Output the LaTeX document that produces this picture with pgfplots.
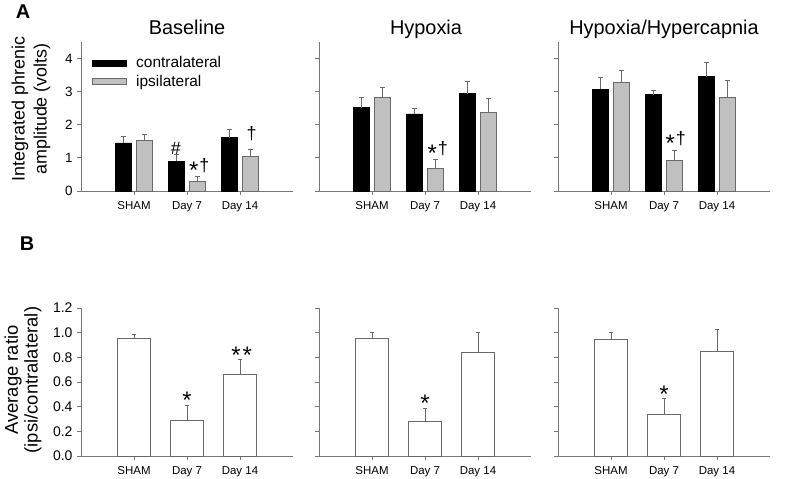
\documentclass[border=0pt]{standalone}
\usepackage{pgfplots}
\pgfplotsset{compat=1.18}
\usepackage{fontspec}
\setmainfont{Liberation Sans}
\definecolor{axgray}{RGB}{120,120,120}
\definecolor{bargray}{RGB}{192,192,192}
\definecolor{bardraw}{RGB}{105,105,105}
\newcommand{\bigast}{\raisebox{-10.5bp}{\fontsize{24}{24}\selectfont *}}
\newcommand{\astdag}{\raisebox{-7bp}{\fontsize{24}{24}\selectfont *}\kern1bp†}
\tikzset{ann/.style={font=\fontsize{18}{18}\selectfont, anchor=base, inner sep=0pt}}
\pgfplotsset{
  eb/.style={error bars/.cd, y dir=plus, y explicit,
    error bar style={bardraw, line width=0.8bp},
    error mark options={rotate=90, bardraw, line width=0.8bp, mark size=2.2bp}},
  panel/.style={
    scale only axis, width=212bp, xmin=-1, xmax=3,
    axis lines*=left, axis line style={axgray, line width=0.8bp},
    tick style={axgray, line width=0.8bp}, tick align=outside, major tick length=4bp,
    xtick={0,1,2}, xticklabels={SHAM,Day 7,Day 14},
    xticklabel style={font=\fontsize{11.5}{13}\selectfont, yshift=-3bp},
    /pgf/number format/assume math mode=true,
    anchor=south west, clip=false,
  },
  panelA/.style={panel, height=149bp, ymin=0, ymax=4.5, ytick={0,1,2,3,4},
    ybar=5bp, bar width=16bp,
    yticklabel style={font=\fontsize{13.5}{15}\selectfont, xshift=-1bp}},
  panelB/.style={panel, height=148bp, ymin=0, ymax=1.2,
    ytick={0,0.2,0.4,0.6,0.8,1.0,1.2}, ybar, bar width=33bp,
    yticklabel style={font=\fontsize{14}{15}\selectfont, xshift=-1bp,
      /pgf/number format/.cd, fixed, fixed zerofill, precision=1}},
  contra/.style={fill=black, draw=black, line width=0.6bp, eb},
  ipsi/.style={fill=bargray, draw=bardraw, line width=0.6bp, eb},
  ratio/.style={fill=white, draw=bardraw, line width=0.8bp, eb},
}
\begin{document}
\begin{tikzpicture}
\useasboundingbox (0,0) rectangle (800bp,479bp);
% ---------------- Panel A ----------------
\begin{axis}[panelA, at={(81bp,288bp)},
  legend style={draw=none, fill=none, at={(axis description cs:0.035,0.93)}, anchor=north west,
    font=\fontsize{15.5}{17}\selectfont, row sep=2bp, cells={anchor=west},
    /tikz/every odd column/.append style={column sep=8bp}},
  legend image code/.code={\draw[#1] (0bp,-3bp) rectangle (34bp,3bp);},
  legend entries={contralateral, ipsilateral}]
\addplot[contra] coordinates {(0,1.45) +- (0,0.20) (1,0.90) +- (0,0.21) (2,1.61) +- (0,0.26)};
\addplot[ipsi] coordinates {(0,1.54) +- (0,0.16) (1,0.29) +- (0,0.14) (2,1.05) +- (0,0.20)};
\node[ann] at (axis cs:0.79,1.09) {\#};
\node[ann] at (axis cs:1.23,0.60) {\astdag};
\node[ann] at (axis cs:2.22,1.56) {†};
\end{axis}
\begin{axis}[panelA, at={(319bp,288bp)}, yticklabels={}]
\addplot[contra] coordinates {(0,2.52) +- (0,0.32) (1,2.33) +- (0,0.15) (2,2.94) +- (0,0.38)};
\addplot[ipsi] coordinates {(0,2.84) +- (0,0.30) (1,0.69) +- (0,0.26) (2,2.38) +- (0,0.43)};
\node[ann] at (axis cs:1.24,1.10) {\astdag};
\end{axis}
\begin{axis}[panelA, at={(558bp,288bp)}, yticklabels={}]
\addplot[contra] coordinates {(0,3.08) +- (0,0.35) (1,2.91) +- (0,0.14) (2,3.45) +- (0,0.42)};
\addplot[ipsi] coordinates {(0,3.29) +- (0,0.34) (1,0.93) +- (0,0.30) (2,2.82) +- (0,0.51)};
\node[ann] at (axis cs:1.22,1.40) {\astdag};
\end{axis}
% ---------------- Panel B ----------------
\begin{axis}[panelB, at={(81bp,23bp)}]
\addplot[ratio] coordinates {(0,0.95) +- (0,0.04) (1,0.29) +- (0,0.12) (2,0.66) +- (0,0.12)};
\node[ann] at (axis cs:1,0.474) {\bigast};
\node[ann] at (axis cs:2.03,0.835) {\bigast\kern2bp\bigast};
\end{axis}
\begin{axis}[panelB, at={(319bp,23bp)}, yticklabels={}]
\addplot[ratio] coordinates {(0,0.954) +- (0,0.045) (1,0.28) +- (0,0.11) (2,0.84) +- (0,0.16)};
\node[ann] at (axis cs:1,0.45) {\bigast};
\end{axis}
\begin{axis}[panelB, at={(558bp,23bp)}, yticklabels={}]
\addplot[ratio] coordinates {(0,0.946) +- (0,0.06) (1,0.34) +- (0,0.13) (2,0.85) +- (0,0.18)};
\node[ann] at (axis cs:1,0.515) {\bigast};
\end{axis}
% ---------------- Text ----------------
\node[font=\fontsize{20}{22}\selectfont, anchor=base] at (187bp,444bp) {Baseline};
\node[font=\fontsize{20}{22}\selectfont, anchor=base] at (426bp,444bp) {Hypoxia};
\node[font=\fontsize{20}{22}\selectfont, anchor=base] at (664bp,444bp) {Hypoxia/Hypercapnia};
\node[font=\bfseries\fontsize{20}{22}\selectfont] at (23bp,467bp) {A};
\node[font=\bfseries\fontsize{20}{22}\selectfont] at (27bp,235bp) {B};
\node[rotate=90, align=center, font=\fontsize{18}{22}\selectfont] at (31bp,370bp) {Integrated phrenic\\amplitude (volts)};
\node[rotate=90, align=center, font=\fontsize{18.5}{20}\selectfont] at (23bp,99bp) {Average ratio\\(ipsi/contralateral)};
\end{tikzpicture}
\end{document}
